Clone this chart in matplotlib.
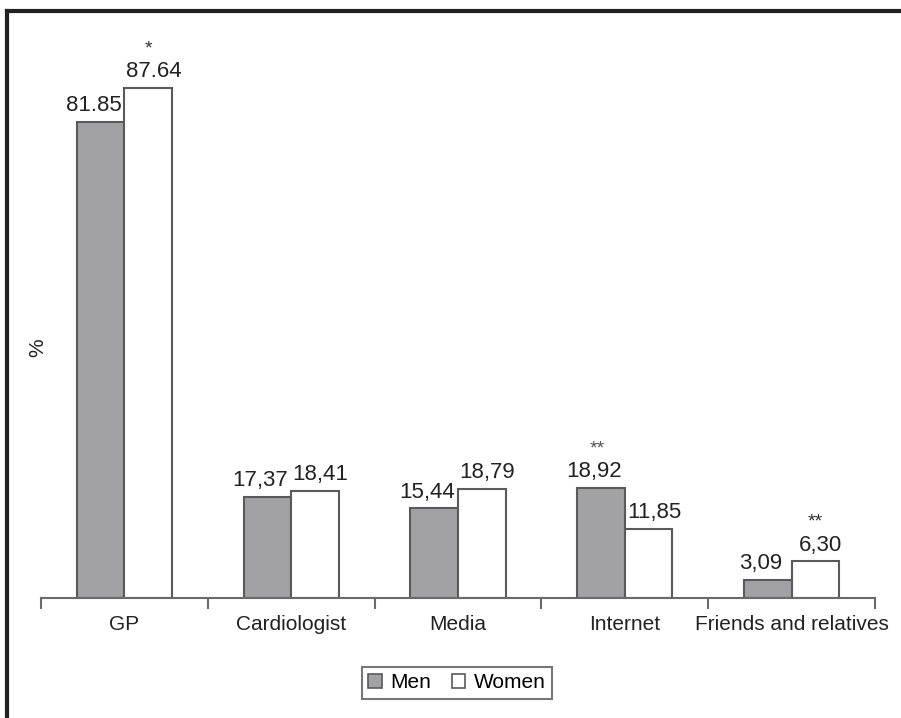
import matplotlib
matplotlib.use("Agg")
import matplotlib.pyplot as plt
from matplotlib.lines import Line2D
from matplotlib.patches import Patch
import numpy as np

categories = ["GP", "Cardiologist", "Media", "Internet", "Friends and relatives"]
men = [81.85, 17.37, 15.44, 18.92, 3.09]
women = [87.64, 18.41, 18.79, 11.85, 6.30]
men_labels = ["81.85", "17,37", "15,44", "18,92", "3,09"]
women_labels = ["87.64", "18,41", "18,79", "11,85", "6,30"]
men_sig = ["", "", "", "**", ""]
women_sig = ["*", "", "", "", "**"]

plt.rcParams['font.family'] = ['Liberation Sans', 'DejaVu Sans']

fig = plt.figure(figsize=(9.01, 7.18), dpi=100)
ax = fig.add_axes([41/901, (718-598)/718, (875-41)/901, 582/718])

x = np.arange(len(categories))
w = 0.285
men_color = "#a2a2a6"
edge = "#5a5a5a"
ax.bar(x - w/2, men, w, color=men_color, edgecolor=edge, linewidth=1.5, zorder=2)
ax.bar(x + w/2, women, w, color="white", edgecolor=edge, linewidth=1.5, zorder=2)

ax.set_xlim(-0.5, len(categories) - 0.5)
ax.set_ylim(0, 100)
for s in ["top", "right", "left"]:
    ax.spines[s].set_visible(False)
ax.spines["bottom"].set_color("#6a6a6a")
ax.spines["bottom"].set_linewidth(1.5)
ax.set_yticks([])
ax.set_xticks(np.arange(len(categories) + 1) - 0.5)
ax.set_xticklabels([])
ax.set_xticks(x, minor=True)
ax.set_xticklabels(categories, minor=True, fontsize=15, color="#222222")
ax.tick_params(axis="x", which="major", direction="out", length=8, width=1.5, color="#6a6a6a")
ax.tick_params(axis="x", which="minor", length=0, pad=12)

for xi, v, lab, sig in zip(x - w/2, men, men_labels, men_sig):
    ax.annotate(lab, (xi, v), xytext=(-5, 4), textcoords="offset points",
                ha="center", va="bottom", fontsize=16, color="#222222")
    if sig:
        ax.annotate(sig, (xi, v), xytext=(-3, 22), textcoords="offset points",
                    ha="center", va="bottom", fontsize=14, color="#555555")
for xi, v, lab, sig in zip(x + w/2, women, women_labels, women_sig):
    ax.annotate(lab, (xi, v), xytext=(4, 4), textcoords="offset points",
                ha="center", va="bottom", fontsize=16, color="#222222")
    if sig:
        ax.annotate(sig, (xi, v), xytext=(0, 22), textcoords="offset points",
                    ha="center", va="bottom", fontsize=14, color="#333333")

fig.text(38/901, 1 - 348/718, "%", rotation=90, ha="center", va="center",
         fontsize=15, color="#222222")

handles = [Patch(facecolor=men_color, edgecolor=edge, linewidth=1.2, label="Men"),
           Patch(facecolor="white", edgecolor=edge, linewidth=1.2, label="Women")]
leg = fig.legend(handles=handles, loc="center", bbox_to_anchor=(457/901, 1 - 683/718),
                 ncol=2, fontsize=15, frameon=True, fancybox=False,
                 handlelength=0.65, handleheight=0.65, handletextpad=0.4,
                 columnspacing=1.0, borderpad=0.3)
leg.get_frame().set_edgecolor("#555555")
leg.get_frame().set_linewidth(1.5)

fig.add_artist(Line2D([7/901, 1], [1 - 11/718, 1 - 11/718], color="#222222", lw=3,
                      transform=fig.transFigure))
fig.add_artist(Line2D([7/901, 7/901], [0, 1 - 11/718], color="#222222", lw=3,
                      transform=fig.transFigure))

fig.savefig("out.png", dpi=100)
